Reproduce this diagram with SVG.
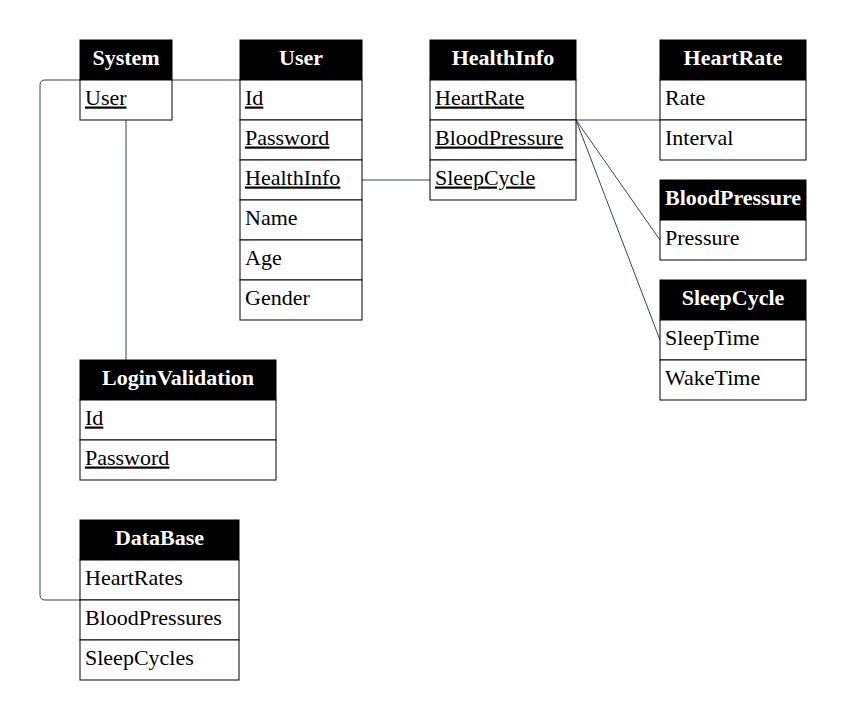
<svg xmlns="http://www.w3.org/2000/svg" width="848" height="720" viewBox="0 0 848 720">
<style>
.h{fill:#000;stroke:#000;stroke-width:1}
.b{fill:#fff;stroke:#000;stroke-width:1}
.ht{font-family:"Liberation Serif",serif;font-size:22px;font-weight:bold;fill:#fff;text-anchor:middle}
.t{font-family:"Liberation Serif",serif;font-size:22px;fill:#000}
.u{text-decoration:underline}
.c{fill:none;stroke:#3a4450;stroke-width:1}
</style>
<rect width="848" height="720" fill="#fff"/>
<g id="connectors">
<path class="c" d="M172,80 H240"/>
<path class="c" d="M80,80 H45 Q40,80 40,85 V595 Q40,600 45,600 H80"/>
<path class="c" d="M126,120 V360"/>
<path class="c" d="M362,180 H430"/>
<path class="c" d="M576,120 H660"/>
<path class="c" d="M576,120 L660,240"/>
<path class="c" d="M576,120 L660,340"/>
</g>
<g id="System">
<rect class="h" x="80" y="40" width="92" height="40"/>
<text class="ht" x="126" y="64.5">System</text>
<rect class="b" x="80" y="80" width="92" height="40"/>
<text class="t u" x="85" y="104.5">User</text>
</g>
<g id="User">
<rect class="h" x="240" y="40" width="122" height="40"/>
<text class="ht" x="301" y="64.5">User</text>
<rect class="b" x="240" y="80" width="122" height="40"/>
<text class="t u" x="245" y="104.5">Id</text>
<rect class="b" x="240" y="120" width="122" height="40"/>
<text class="t u" x="245" y="144.5">Password</text>
<rect class="b" x="240" y="160" width="122" height="40"/>
<text class="t u" x="245" y="184.5">HealthInfo</text>
<rect class="b" x="240" y="200" width="122" height="40"/>
<text class="t" x="245" y="224.5">Name</text>
<rect class="b" x="240" y="240" width="122" height="40"/>
<text class="t" x="245" y="264.5">Age</text>
<rect class="b" x="240" y="280" width="122" height="40"/>
<text class="t" x="245" y="304.5">Gender</text>
</g>
<g id="HealthInfo">
<rect class="h" x="430" y="40" width="146" height="40"/>
<text class="ht" x="503" y="64.5">HealthInfo</text>
<rect class="b" x="430" y="80" width="146" height="40"/>
<text class="t u" x="435" y="104.5">HeartRate</text>
<rect class="b" x="430" y="120" width="146" height="40"/>
<text class="t u" x="435" y="144.5">BloodPressure</text>
<rect class="b" x="430" y="160" width="146" height="40"/>
<text class="t u" x="435" y="184.5">SleepCycle</text>
</g>
<g id="HeartRate">
<rect class="h" x="660" y="40" width="146" height="40"/>
<text class="ht" x="733" y="64.5">HeartRate</text>
<rect class="b" x="660" y="80" width="146" height="40"/>
<text class="t" x="665" y="104.5">Rate</text>
<rect class="b" x="660" y="120" width="146" height="40"/>
<text class="t" x="665" y="144.5">Interval</text>
</g>
<g id="BloodPressure">
<rect class="h" x="660" y="180" width="146" height="40"/>
<text class="ht" x="733" y="204.5">BloodPressure</text>
<rect class="b" x="660" y="220" width="146" height="40"/>
<text class="t" x="665" y="244.5">Pressure</text>
</g>
<g id="SleepCycle">
<rect class="h" x="660" y="280" width="146" height="40"/>
<text class="ht" x="733" y="304.5">SleepCycle</text>
<rect class="b" x="660" y="320" width="146" height="40"/>
<text class="t" x="665" y="344.5">SleepTime</text>
<rect class="b" x="660" y="360" width="146" height="40"/>
<text class="t" x="665" y="384.5">WakeTime</text>
</g>
<g id="LoginValidation">
<rect class="h" x="80" y="360" width="196" height="40"/>
<text class="ht" x="178" y="384.5">LoginValidation</text>
<rect class="b" x="80" y="400" width="196" height="40"/>
<text class="t u" x="85" y="424.5">Id</text>
<rect class="b" x="80" y="440" width="196" height="40"/>
<text class="t u" x="85" y="464.5">Password</text>
</g>
<g id="DataBase">
<rect class="h" x="80" y="520" width="159" height="40"/>
<text class="ht" x="159.5" y="544.5">DataBase</text>
<rect class="b" x="80" y="560" width="159" height="40"/>
<text class="t" x="85" y="584.5">HeartRates</text>
<rect class="b" x="80" y="600" width="159" height="40"/>
<text class="t" x="85" y="624.5">BloodPressures</text>
<rect class="b" x="80" y="640" width="159" height="40"/>
<text class="t" x="85" y="664.5">SleepCycles</text>
</g>
</svg>
